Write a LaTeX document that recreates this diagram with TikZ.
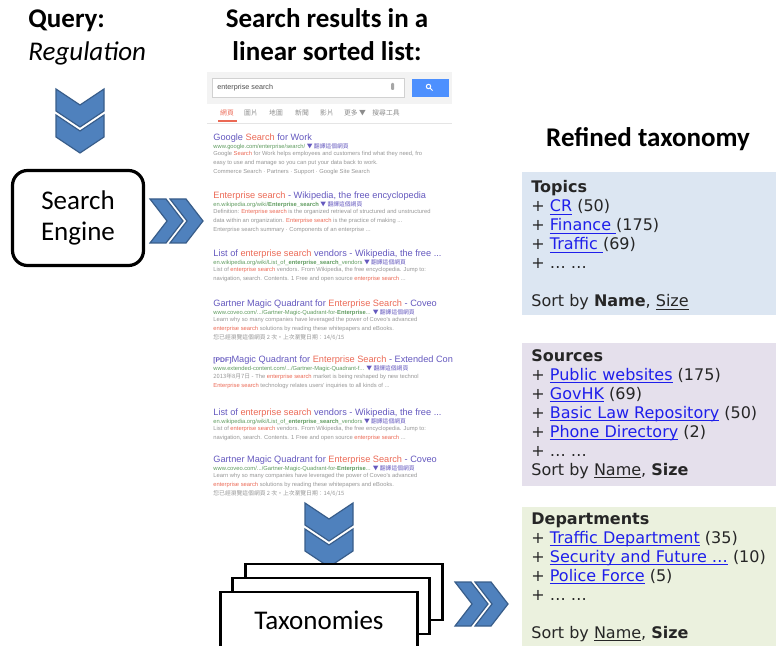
\documentclass[tikz,border=0pt]{standalone}
\usepackage{fontspec}
\setmainfont{Carlito}
\newfontfamily\verdfont{DejaVu Sans}
\newfontfamily\shotfont{Liberation Sans}
\newfontfamily\cjk{Noto Sans CJK TC}
\usetikzlibrary{positioning}

\definecolor{chevfill}{RGB}{79,129,189}
\definecolor{chevline}{RGB}{56,93,138}
\definecolor{topicsbg}{RGB}{220,230,242}
\definecolor{sourcesbg}{RGB}{229,224,236}
\definecolor{deptbg}{RGB}{235,241,222}
\definecolor{linkblue}{RGB}{30,30,235}
\definecolor{shottitle}{RGB}{100,88,190}
\definecolor{shotred}{RGB}{235,105,85}
\definecolor{shotgreen}{RGB}{95,155,95}
\definecolor{shotgray}{RGB}{150,150,150}
\definecolor{shotbar}{RGB}{77,144,254}
\definecolor{shothead}{RGB}{243,243,243}

\newcommand\taxfont{\verdfont\fontsize{8}{9.5}\selectfont\lineskiplimit -20pt\relax}
% web-style underline, just below the baseline
\newcommand\uln[1]{\leavevmode\setbox0\hbox{#1}\rlap{\rule[-1.3pt]{\wd0}{0.45pt}}\box0}
\newcommand\lnk[1]{\textcolor{linkblue}{\uln{#1}}}
\newcommand\hl[1]{\textcolor{shotred}{#1}}
% one hit of the screenshot: name, y, title, url, snippet
\newcommand\shotres[5]{%
  \node[shottitle] (#1t) at (213,#2) {#3};
  \node[shoturl] (#1u) at (213,#2+9) {#4 \cjk\textcolor{shottitle}{▼ 翻譯這個網頁}};
  \node[shotsnip] (#1s) at (213,#2+13.2) {#5};
}

\begin{document}
\begin{tikzpicture}[%
    x=0.5pt, y=-0.5pt,
    every node/.style = {inner sep=0pt},
    heading/.style = {%
      font=\bfseries\fontsize{13.5}{16.5}\selectfont,
      align=center},
    chevpath/.style = {%
      fill=chevfill, draw=chevline,
      line width=0.6pt},
    enginebox/.style = {%
      draw, line width=1.6pt,
      rounded corners=7.5pt,
      minimum width=65.5pt, minimum height=47.5pt,
      align=center,
      font=\fontsize{13.5}{15.5}\selectfont},
    stackbox/.style = {%
      draw, fill=white, line width=1.1pt,
      minimum width=98.5pt, minimum height=28pt,
      font=\fontsize{13.5}{15.5}\selectfont},
    taxbox/.style = {%
      minimum width=127pt, minimum height=71.5pt},
    taxtext/.style = {%
      anchor=base west, align=left,
      text=black!85, font=\taxfont},
    shottitle/.style = {%
      anchor=west, text=shottitle,
      font=\shotfont\fontsize{4.6}{5}\selectfont},
    shoturl/.style = {%
      anchor=west, text=shotgreen,
      font=\shotfont\fontsize{2.9}{3.5}\selectfont},
    shotsnip/.style = {%
      anchor=north west, align=left, text=shotgray,
      font=\shotfont\fontsize{2.9}{4.35}\selectfont},
    shottab/.style = {%
      text=black!45,
      font=\cjk\fontsize{3.4}{4}\selectfont},
    chevdown/.pic = {%
      \foreach \dy in {0,26}
        \filldraw[chevpath] (-24,\dy) -- (0,\dy+16) -- (24,\dy)
          -- (24,\dy+22) -- (0,\dy+38) -- (-24,\dy+22) -- cycle;
    },
    chevright/.pic = {%
      \foreach \dx in {0,20}
        \filldraw[chevpath] (\dx,-22) -- (\dx+16,-22) -- (\dx+33,0)
          -- (\dx+16,22) -- (\dx,22) -- (\dx+17,0) -- cycle;
    }
  ]
\useasboundingbox (0,0) rectangle (776,646);

% headings
\node[heading, align=left, anchor=base west] (query) at (28,61)
  {Query:\\\normalfont\itshape Regulation};
\node[heading, anchor=base] (results) at (327,61)
  {Search results in a\\linear sorted list:};
\node[heading, anchor=base] (refined) at (648,147) {Refined taxonomy};

% left column
\pic at (80,89) {chevdown};
\node[enginebox] (engine) at (78,218) {Search\\Engine};
\pic at (150,221) {chevright};

% screenshot of the hit list
\begin{scope}
  \clip (207,72) rectangle (452,500);
  \fill[shothead] (207,72) rectangle (452,104);
  \node[draw=black!18, fill=white, anchor=north west,
        minimum width=96pt, minimum height=9.5pt] (bar) at (212,78) {};
  \node[anchor=west, text=black!70, font=\shotfont\fontsize{3.6}{4}\selectfont]
    (barq) at (217,87.5) {enterprise search};
  \fill[black!35, rounded corners=0.5pt] (391,83) rectangle (394,90);
  \node[fill=shotbar, anchor=north west,
        minimum width=18.5pt, minimum height=9pt] (barbtn) at (412,79) {};
  \draw[white, line width=0.5pt] (428.5,86.5) circle (2.2)
    (430,88) -- (432.5,90.5);
  \node[shottab, text=shotred] (tab1) at (227,113) {網頁};
  \foreach \x/\t [count=\i from 2] in {251/圖片, 276/地圖, 302/新聞,
      327/影片, 355/更多 ▼, 386/搜尋工具}
    \node[shottab] (tab\i) at (\x,113) {\t};
  \draw[black!10, line width=0.4pt] (207,123) -- (452,123);
  \draw[shotred, line width=0.8pt] (218,121) -- (237,121);

  \shotres{r1}{138}{Google \hl{Search} for Work}
    {www.google.com/enterprise/search/}
    {Google \hl{Search} for Work helps employees and customers find what they need, fro\\
     easy to use and manage so you can put your data back to work.\\
     Commerce Search · Partners · Support · Google Site Search}
  \shotres{r2}{196}{\hl{Enterprise search} - Wikipedia, the free encyclopedia}
    {en.wikipedia.org/wiki/\textbf{Enterprise\_search}}
    {Definition: \hl{Enterprise search} is the organized retrieval of structured and unstructured\\
     data within an organization. \hl{Enterprise search} is the practice of making ...\\
     Enterprise search summary · Components of an enterprise ...}
  \shotres{r3}{254}{List of \hl{enterprise search} vendors - Wikipedia, the free ...}
    {en.wikipedia.org/wiki/List\_of\_\textbf{enterprise\_search}\_vendors}
    {List of \hl{enterprise search} vendors. From Wikipedia, the free encyclopedia. Jump to:\\
     navigation, search. Contents. 1 Free and open source \hl{enterprise search} ...}
  \shotres{r4}{304}{Gartner Magic Quadrant for \hl{Enterprise Search} - Coveo}
    {www.coveo.com/.../Gartner-Magic-Quadrant-for-\textbf{Enterprise}...}
    {Learn why so many companies have leveraged the power of Coveo's advanced\\
     \hl{enterprise search} solutions by reading these whitepapers and eBooks.\\
     \cjk 您已經瀏覽這個網頁 2 次。上次瀏覽日期：14/6/15}
  \shotres{r5}{360}{{\fontsize{3.4}{4}\selectfont\bfseries [PDF]}Magic Quadrant for \hl{Enterprise Search} - Extended Con}
    {www.extended-content.com/.../Gartner-Magic-Quadrant-f...}
    {{\cjk 2013年8月7日} - The \hl{enterprise search} market is being reshaped by new technol\\
     \hl{Enterprise search} technology relates users' inquiries to all kinds of ...}
  \shotres{r6}{413}{List of \hl{enterprise search} vendors - Wikipedia, the free ...}
    {en.wikipedia.org/wiki/List\_of\_\textbf{enterprise\_search}\_vendors}
    {List of \hl{enterprise search} vendors. From Wikipedia, the free encyclopedia. Jump to:\\
     navigation, search. Contents. 1 Free and open source \hl{enterprise search} ...}
  \shotres{r7}{460}{Gartner Magic Quadrant for \hl{Enterprise Search} - Coveo}
    {www.coveo.com/.../Gartner-Magic-Quadrant-for-\textbf{Enterprise}...}
    {Learn why so many companies have leveraged the power of Coveo's advanced\\
     \hl{enterprise search} solutions by reading these whitepapers and eBooks.\\
     \cjk 您已經瀏覽這個網頁 2 次。上次瀏覽日期：14/6/15}
\end{scope}

% taxonomies
\pic at (329,503) {chevdown};
\node[stackbox] (taxo3) at (344,592) {};
\node[stackbox] (taxo2) at (331,606) {};
\node[stackbox] (taxo1) at (319,620) {Taxonomies};
\pic at (455,604) {chevright};

% refined taxonomy boxes
\node[taxbox, fill=topicsbg, anchor=north west] (topicsbox) at (522,172) {};
\node[taxbox, fill=sourcesbg, below=13.5pt of topicsbox] (sourcesbox) {};
\node[taxbox, fill=deptbg, below=10pt of sourcesbox] (deptbox) {};

\node[taxtext] (topics) at (531,307) {%
  \textbf{Topics}\\
  + \lnk{CR} (50)\\
  + \lnk{Finance\ }(175)\\
  + \lnk{Traffic\ }(69)\\
  + … …\\[9.5pt]
  Sort by \textbf{Name}, \uln{Size}};
\node[taxtext] (sources) at (531,475) {%
  \textbf{Sources}\\
  + \lnk{Public websites} (175)\\
  + \lnk{GovHK} (69)\\
  + \lnk{Basic Law Repository} (50)\\
  + \lnk{Phone Directory} (2)\\
  + … …\\
  Sort by \uln{Name}, \textbf{Size}};
\node[taxtext] (depts) at (531,638) {%
  \textbf{Departments}\\
  + \lnk{Traffic Department} (35)\\
  + \lnk{Security and Future …} (10)\\
  + \lnk{Police Force} (5)\\
  + … …\\[9.5pt]
  Sort by \uln{Name}, \textbf{Size}};

\end{tikzpicture}
\end{document}
